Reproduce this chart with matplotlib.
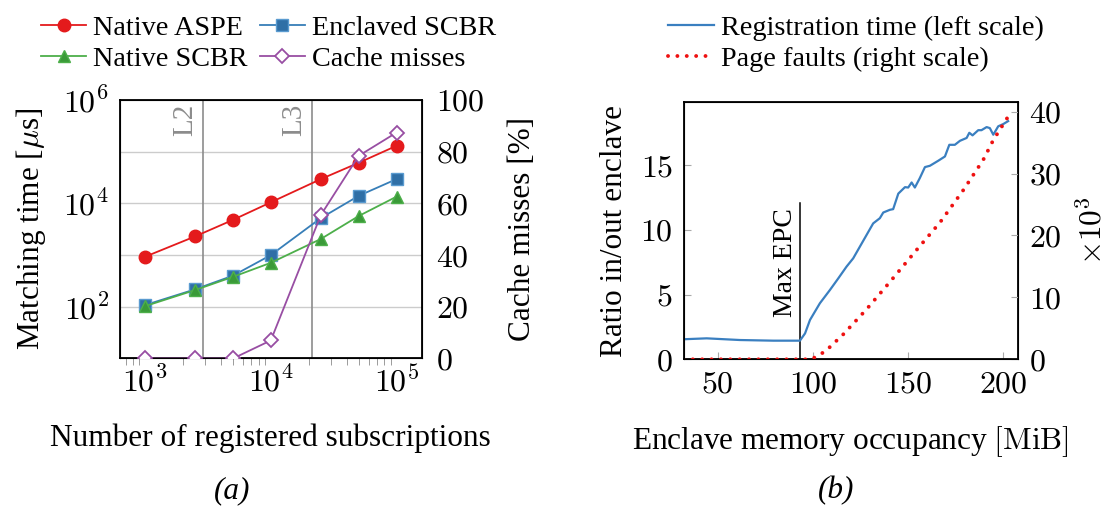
import matplotlib
matplotlib.use('Agg')
import matplotlib.pyplot as plt
from matplotlib.lines import Line2D

plt.rcParams['font.family'] = ['Liberation Serif', 'DejaVu Serif']
plt.rcParams['mathtext.fontset'] = 'cm'
plt.rcParams['font.size'] = 23
label_fs = 22.5
legend_fs = 20.3

# (a) matching time vs number of subscriptions
subs = [1000, 2500, 5000, 10000, 25000, 50000, 100000]
native_aspe = [930, 2300, 4800, 10500, 29500, 61000, 130000]
enclaved_scbr = [108, 218, 400, 1000, 5200, 14000, 29500]
native_scbr = [103, 211, 380, 710, 2050, 5700, 13500]
cache_misses = [0, 0, 0, 7, 55.5, 78.4, 87.4]
cache_levels = {'L2': 2900, 'L3': 21400}

# (b) registration time ratio and page faults vs enclave memory
mem_reg = [32.3, 44.2, 61.7, 79.2, 93.2, 95.9, 98.5, 103.7, 109, 113.4, 117.7, 121.2,
           124.7, 128.2, 131.7, 135.2, 137, 140.5, 142.2, 144.9, 148.4, 150.1, 151.9,
           153.6, 156.2, 158.9, 161.5, 165.9, 169.4, 171.7, 174.6, 177.3, 180.8, 182.2,
           183.9, 186.9, 188.6, 191.3, 193, 194.8, 197.4, 200, 202.6]
ratio = [1.55, 1.62, 1.49, 1.44, 1.44, 2.0, 3.04, 4.33, 5.36, 6.26, 7.16, 7.8,
         8.7, 9.6, 10.5, 10.9, 11.34, 11.55, 11.6, 12.8, 13.3, 13.27, 13.66,
         13.27, 14.0, 14.85, 14.95, 15.34, 15.67, 16.57, 16.57, 16.88, 17.1, 17.5,
         17.3, 17.7, 17.7, 17.94, 17.86, 17.35, 18.0, 18.17, 18.4]
mem_pf = [32, 60, 97, 100, 102, 106.4, 116, 128.2, 140.5, 154.5, 166.8, 179, 189.5, 194.8, 202.6]
page_faults = [0, 0, 0, 0.1, 0.54, 1.24, 4.04, 8.07, 12.5, 17.66, 22.1, 27.3, 32.2, 35.4, 39.2]
max_epc = 93.5

red = '#e41a1c'
blue = '#377eb8'
green = '#4daf4a'
purple = '#984ea3'

fig = plt.figure(figsize=(11.1, 5.07), dpi=100)

# ---------- left panel ----------
ax = fig.add_axes([0.1081, 0.2929, 0.2718, 0.5099])
ax.set_xscale('log')
ax.set_yscale('log')
ax.set_xlim(10**2.8, 10**5.2)
ax.set_ylim(10, 1e6)

for y in [1e2, 1e3, 1e4, 1e5]:
    ax.axhline(y, color='#cccccc', lw=1, zorder=0)
for name, x in cache_levels.items():
    ax.axvline(x, color='#8c8c8c', lw=1.2, zorder=1)
    ax.text(x / 1.1, 10**5.92, name, rotation=90, color='#8c8c8c', ha='right', va='top',
            fontsize=21)

l1, = ax.plot(subs, native_aspe, color=red, marker='o', ms=9, lw=1.3, zorder=3)
l2, = ax.plot(subs, enclaved_scbr, color=blue, marker='s', ms=8.5, mfc='#2f6fa6', mec='#5a9bd0', lw=1.3, zorder=3)
l3, = ax.plot(subs, native_scbr, color=green, marker='^', ms=9, mfc='#3a9a38', lw=1.3, zorder=3)

ax.set_xticks([1e3, 1e4, 1e5])
ax.set_xticklabels([r'$10^{3}$', r'$10^{4}$', r'$10^{5}$'])
ax.set_yticks([1e2, 1e4, 1e6])
ax.set_yticklabels([r'$10^{2}$', r'$10^{4}$', r'$10^{6}$'])
ax.yaxis.set_minor_locator(matplotlib.ticker.NullLocator())
ax.tick_params(axis='x', which='both', direction='out', color='#8c8c8c', pad=6)
ax.tick_params(axis='x', which='major', length=0)
ax.tick_params(axis='x', which='minor', length=5)
ax.tick_params(axis='y', which='major', length=0, pad=8)
ax.set_xlabel('Number of registered subscriptions', fontsize=label_fs, labelpad=18)
ax.set_ylabel(r'Matching time [$\mu$s]', fontsize=label_fs, labelpad=11)
for s in ax.spines.values():
    s.set_linewidth(1.3)

ax2 = ax.twinx()
ax2.set_ylim(0, 100)
l4, = ax2.plot(subs, cache_misses, color=purple, marker='D', ms=7, mfc='white', mec=purple,
               mew=1.3, lw=1.3, zorder=4)
ax2.set_yticks([0, 20, 40, 60, 80, 100])
ax2.set_yticklabels(['$%d$' % v for v in [0, 20, 40, 60, 80, 100]])
ax2.tick_params(axis='y', length=0, pad=10)
ax2.set_ylabel('Cache misses [%]', fontsize=label_fs, labelpad=17)

fig.legend([l1, l3, l2, l4], ['Native ASPE', 'Native SCBR', 'Enclaved SCBR', 'Cache misses'],
           ncol=2, loc='upper left', bbox_to_anchor=(0.027, 0.993), frameon=False,
           fontsize=legend_fs, handlelength=1.6, handletextpad=0.25, columnspacing=0.42,
           labelspacing=0.2, borderaxespad=0)

fig.text(0.209, 0.032, '(a)', style='italic', ha='center', va='center', fontsize=label_fs)

# ---------- right panel ----------
bx = fig.add_axes([0.6162, 0.2913, 0.3006, 0.5081])
bx.set_xlim(32.3, 207.6)
bx.set_ylim(0, 19.9)
r1, = bx.plot(mem_reg, ratio, color='#3a7fc0', lw=1.6, zorder=3)
bx.plot([max_epc, max_epc], [0, 12.06], color='black', lw=1.1)
bx.text(max_epc - 1.2, 3.3, 'Max EPC', rotation=90, ha='right', va='bottom', fontsize=20)
bx.set_xticks([50, 100, 150, 200])
bx.set_xticklabels(['$%d$' % v for v in [50, 100, 150, 200]])
bx.set_yticks([0, 5, 10, 15])
bx.set_yticklabels(['$%d$' % v for v in [0, 5, 10, 15]])
bx.tick_params(direction='in', color='#aaaaaa', length=5, pad=8)
bx.set_xlabel(r'Enclave memory occupancy $[\mathrm{MiB}]$', fontsize=label_fs, labelpad=18)
bx.set_ylabel('Ratio in/out enclave', fontsize=label_fs, labelpad=8)
for s in bx.spines.values():
    s.set_linewidth(1.3)

bx2 = bx.twinx()
bx2.set_ylim(0, 41.6)
r2, = bx2.plot(mem_pf, page_faults, color='#ee1111', lw=2.8, linestyle=(0, (0.01, 2.4)),
               dash_capstyle='round', zorder=2)
bx2.set_yticks([0, 10, 20, 30, 40])
bx2.set_yticklabels(['$%d$' % v for v in [0, 10, 20, 30, 40]])
bx2.tick_params(direction='in', color='#aaaaaa', length=5, pad=8)
bx2.set_ylabel(r'$\times 10^{3}$', fontsize=label_fs, labelpad=12)

fig.legend([Line2D([], [], color='#3a7fc0', lw=1.6),
            Line2D([], [], color='#ee1111', lw=2.8, linestyle=(0, (0.01, 2.4)), dash_capstyle='round')],
           ['Registration time (left scale)', 'Page faults (right scale)'],
           loc='upper left', bbox_to_anchor=(0.592, 0.993), frameon=False,
           fontsize=legend_fs, handlelength=1.6, handletextpad=0.25, labelspacing=0.2,
           borderaxespad=0)

fig.text(0.753, 0.032, '(b)', style='italic', ha='center', va='center', fontsize=label_fs)

fig.savefig('out.png', dpi=100)
